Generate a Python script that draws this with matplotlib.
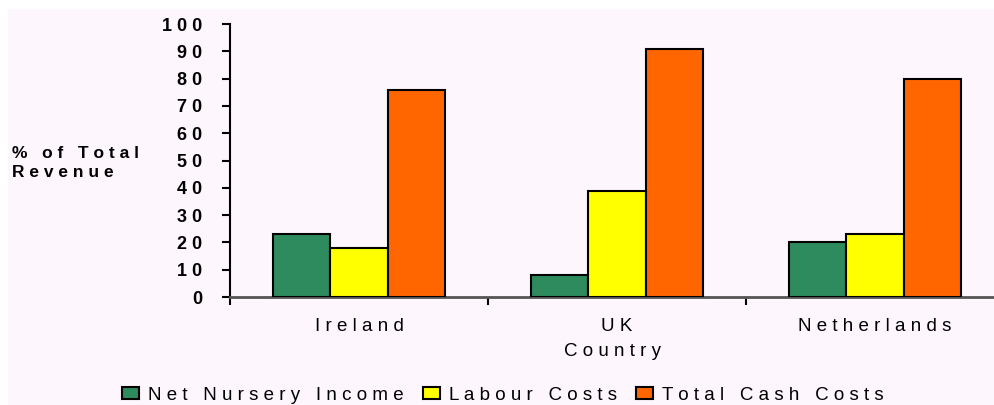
import matplotlib.pyplot as plt
from matplotlib.patches import Rectangle
from matplotlib.ticker import FixedLocator
import numpy as np

countries = ['Ireland', 'UK', 'Netherlands']
series_names = ['Net Nursery Income', 'Labour Costs', 'Total Cash Costs']
net_income = [23, 8, 20]
labour_costs = [18, 39, 23]
total_cash_costs = [76, 91, 80]
colors = ['#2E8B5E', '#FFFF00', '#FF6600']
y_ticks = [0, 10, 20, 30, 40, 50, 60, 70, 80, 90, 100]

plt.rcParams['font.family'] = ['Liberation Sans', 'DejaVu Sans']


def spaced(s):
    # wide letter spacing, words kept further apart
    return '   '.join(' '.join(w) for w in s.split(' '))


fig = plt.figure(figsize=(9.95, 4.05), dpi=100)
fig.patch.set_facecolor('white')
fig.patches.append(Rectangle((8 / 995, 0), 1, 396 / 405, transform=fig.transFigure,
                             facecolor='#FDF7FD', edgecolor='none', zorder=-10))

ax = fig.add_axes([230 / 995, 108 / 405, 765 / 995, 273 / 405])
ax.set_facecolor('none')

x = np.arange(len(countries))
w = 0.223
values = [net_income, labour_costs, total_cash_costs]
for i, (vals, c) in enumerate(zip(values, colors)):
    ax.bar(x + (i - 1) * w, vals, w, color=c, edgecolor='black', linewidth=1.5,
           label=spaced(series_names[i]), zorder=3)

ax.set_xlim(-0.5, 2.465)
ax.set_ylim(0, 100)

for side in ['top', 'right']:
    ax.spines[side].set_visible(False)
ax.spines['left'].set_linewidth(1.5)
ax.spines['bottom'].set_linewidth(2)
ax.spines['bottom'].set_color('#555555')

ax.set_yticks(y_ticks)
ax.set_yticklabels([spaced(str(v)) for v in y_ticks], fontsize=13, fontweight='bold')
ax.tick_params(axis='y', direction='out', length=6, width=1.5, pad=14)

ax.set_xticks(x)
ax.set_xticklabels([spaced(c) for c in countries], fontsize=13.5)
ax.tick_params(axis='x', which='major', length=0, pad=15)
ax.xaxis.set_minor_locator(FixedLocator([-0.5, 0.5, 1.5]))
ax.tick_params(axis='x', which='minor', direction='out', length=6, width=1.5)

ax.set_xlabel(spaced('Country'), fontsize=13.5, labelpad=6)

fig.text(12 / 995, 1 - 163 / 405, spaced('% of Total') + '\n' + spaced('Revenue'),
         fontsize=12.5, fontweight='bold', ha='left', va='center', linespacing=1.35)

ax.legend(loc='center', bbox_to_anchor=(503 / 995, 1 - 395 / 405),
          bbox_transform=fig.transFigure, ncol=3, frameon=False, fontsize=13.5,
          handlelength=0.9, handleheight=0.55, handletextpad=0.5, columnspacing=1.0)

fig.savefig('out.png', dpi=100)
